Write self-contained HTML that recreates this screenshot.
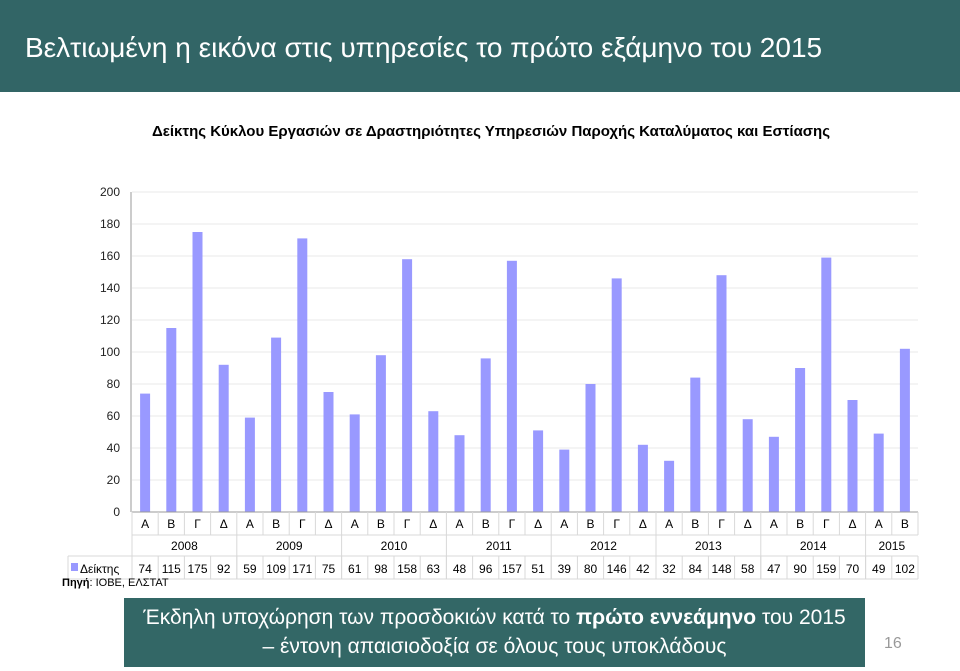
<!DOCTYPE html>
<html><head><meta charset="utf-8"><style>
body{margin:0;width:960px;height:671px;background:#fff;position:relative;overflow:hidden;font-family:"Liberation Sans","DejaVu Sans",sans-serif}
#hdr{position:absolute;left:0;top:0;width:960px;height:92px;background:#326566;color:#fff;font-size:28px;line-height:96px;padding-left:25px;box-sizing:border-box}
#bot{position:absolute;left:124px;top:598px;width:741px;height:69px;background:#336766;color:#fff;font-size:21px;text-align:center;line-height:29px;padding-top:5px;box-sizing:border-box}
#pg{position:absolute;left:884px;top:635px;color:#999;font-size:16px}
</style></head><body>
<div id="hdr">Βελτιωμένη η εικόνα στις υπηρεσίες το πρώτο εξάμηνο του 2015</div>
<svg id="chart" width="960" height="671" style="position:absolute;left:0;top:0"></svg>
<div id="bot">Έκδηλη υποχώρηση των προσδοκιών κατά το <b>πρώτο εννεάμηνο</b> του 2015<br>– έντονη απαισιοδοξία σε όλους τους υποκλάδους</div>
<div id="pg">16</div>
<script>
const quarters=["Α","Β","Γ","Δ"];
const years=["2008","2009","2010","2011","2012","2013","2014","2015"];
const values=[74,115,175,92,59,109,171,75,61,98,158,63,48,96,157,51,39,80,146,42,32,84,148,58,47,90,159,70,49,102];
const yTicks=[0,20,40,60,80,100,120,140,160,180,200];
const NS="http://www.w3.org/2000/svg";
const svg=document.getElementById('chart');
const x0=132,cw=26.2,yBase=512,yScale=1.6;
const X=i=>x0+i*cw;
const Y=v=>yBase-v*yScale;
function mk(t,a,txt){const e=document.createElementNS(NS,t);for(const k in a)e.setAttribute(k,a[k]);if(txt!==undefined)e.textContent=txt;svg.appendChild(e);return e;}
const title=mk('text',{x:491,y:136,'text-anchor':'middle','font-size':15,'font-weight':'bold',fill:'#000'},'Δείκτης Κύκλου Εργασιών σε Δραστηριότητες Υπηρεσιών Παροχής Καταλύματος και Εστίασης');


const xEnd=X(values.length);
yTicks.forEach(t=>{
  const g=mk('line',{x1:x0,x2:xEnd,y1:Y(t),y2:Y(t),stroke:'#e8e8e8'});
  
  
  const l=mk('text',{x:120,y:Y(t)+4,'text-anchor':'end','font-size':12,fill:'#222'},t);
  
  
});
mk('line',{x1:x0-1,x2:x0-1,y1:Y(200),y2:yBase,stroke:'#999'});
values.forEach((v,i)=>{
  const r=mk('rect',{x:X(i)+cw/2-5,y:Y(v),width:10,height:v*yScale,fill:'#9999ff'});
  
  
  const q=mk('text',{x:X(i)+cw/2,y:528,'text-anchor':'middle','font-size':12,fill:'#000'},quarters[i%4]);
  
  
  const d=mk('text',{x:X(i)+cw/2,y:573,'text-anchor':'middle','font-size':12,fill:'#000'},v);
  
  
});
// table lines
const tl='#d8d8d8';
mk('line',{x1:x0,x2:xEnd,y1:yBase,y2:yBase,stroke:'#999'});
[535,556].forEach(y=>mk('line',{x1:(y==556?68:x0),x2:xEnd,y1:y,y2:y,stroke:tl}));
mk('line',{x1:68,x2:xEnd,y1:579,y2:579,stroke:tl});
mk('line',{x1:68,x2:68,y1:556,y2:579,stroke:tl});
for(let i=0;i<=values.length;i++){
  mk('line',{x1:X(i),x2:X(i),y1:(i%4==0?512:512),y2:(i%4==0?579:535),stroke:tl});
  mk('line',{x1:X(i),x2:X(i),y1:556,y2:579,stroke:tl});
}
years.forEach((yr,j)=>{
  const n=Math.min(4,values.length-j*4);
  const t=mk('text',{x:X(j*4)+n*cw/2,y:550,'text-anchor':'middle','font-size':12,fill:'#000'},yr);
  
  
});
const lg=mk('rect',{x:71,y:563,width:7,height:8,fill:'#9999ff'});


const lt=mk('text',{x:80,y:573,'font-size':12,fill:'#000'},'Δείκτης');


const src=mk('text',{x:62,y:586,'font-size':11,fill:'#000'});
src.innerHTML='<tspan font-weight="bold">Πηγή</tspan>: ΙΟΒΕ, ΕΛΣΤΑΤ';


</script>
</body></html>
